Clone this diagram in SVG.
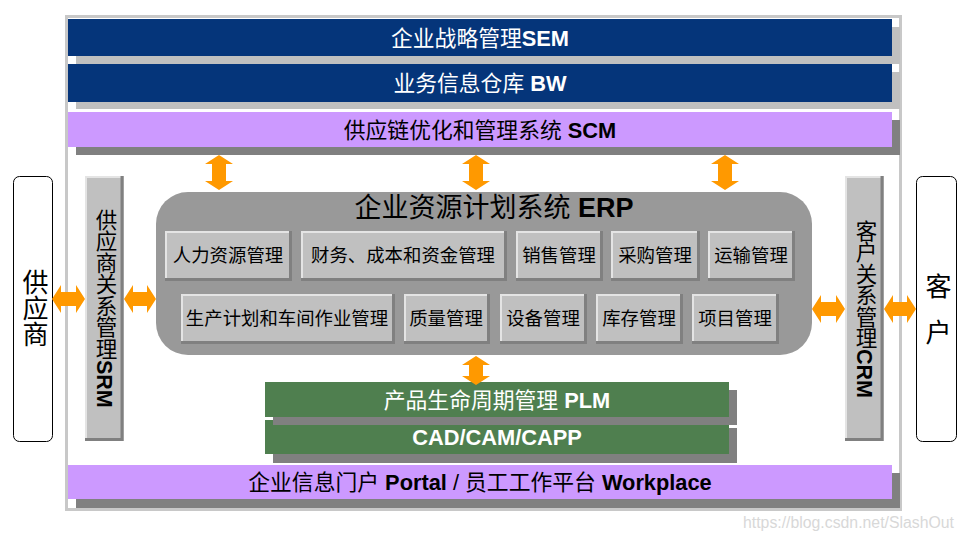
<svg xmlns="http://www.w3.org/2000/svg" width="963" height="541" viewBox="0 0 963 541">
<style>
text{font-family:"Liberation Sans","Noto Sans CJK SC",sans-serif;}
.bar{fill:#05357a}
.sh1{fill:#c0c0c0}
.sh2{fill:#808080}
.pur{fill:#cc99ff}
.grn{fill:#4f7f4f}
.wt{fill:#ffffff;font-size:21.8px;text-anchor:middle}
.bt{fill:#000000;font-size:21.8px;text-anchor:middle}
.b{font-weight:bold}
.m{fill:#c0c0c0}
.hl{fill:none;stroke:#e4e4e4;stroke-width:2}
.dk{fill:none;stroke:#808080;stroke-width:3}
.mt{font-size:18.4px;text-anchor:middle;fill:#000}
.arr{fill:#ff9900}
.vt{writing-mode:vertical-rl;font-size:21.5px;fill:#000}
.big{writing-mode:vertical-rl;font-size:26px;fill:#000}
.box{fill:#fff;stroke:#000;stroke-width:1}
</style>
<rect x="0" y="0" width="963" height="541" fill="#ffffff"/>
<rect id="frame" x="66.5" y="16.5" width="834" height="493" fill="#ffffff" stroke="#c8c8c8" stroke-width="3"/>

<g id="sem">
<rect class="sh1" x="76" y="27" width="824" height="37"/>
<rect class="bar" x="68" y="19" width="824" height="37"/>
<text class="wt" x="480" y="45.5">企业战略管理<tspan class="b">SEM</tspan></text>
</g>
<g id="bw">
<rect class="sh1" x="76" y="72" width="824" height="37"/>
<rect class="bar" x="68" y="64" width="824" height="38"/>
<text class="wt" x="480" y="90.5">业务信息仓库 <tspan class="b">BW</tspan></text>
</g>
<g id="scm">
<rect class="sh2" x="76" y="120" width="824" height="35"/>
<rect class="pur" x="68" y="112" width="824" height="35"/>
<text class="bt" x="480" y="137.5">供应链优化和管理系统 <tspan class="b">SCM</tspan></text>
</g>

<g id="erp">
<rect x="156" y="192" width="656" height="163" rx="32" ry="32" fill="#999999"/>
<text x="494" y="217" font-size="27" text-anchor="middle" fill="#000">企业资源计划系统 <tspan class="b">ERP</tspan></text>
</g>

<g id="m-hr"><rect class="m" x="165" y="231" width="127" height="50"/><path class="hl" d="M166,280V232H291"/><path class="dk" d="M290.5,231V279.5H165"/><text class="mt" x="228" y="262">人力资源管理</text></g>
<g id="m-fin"><rect class="m" x="301" y="231" width="206" height="50"/><path class="hl" d="M302,280V232H506"/><path class="dk" d="M505.5,231V279.5H301"/><text class="mt" x="403" y="262">财务、成本和资金管理</text></g>
<g id="m-sales"><rect class="m" x="516" y="231" width="87" height="50"/><path class="hl" d="M517,280V232H602"/><path class="dk" d="M601.5,231V279.5H516"/><text class="mt" x="559" y="262">销售管理</text></g>
<g id="m-pur"><rect class="m" x="611" y="231" width="89" height="50"/><path class="hl" d="M612,280V232H699"/><path class="dk" d="M698.5,231V279.5H611"/><text class="mt" x="655" y="262">采购管理</text></g>
<g id="m-trans"><rect class="m" x="708" y="231" width="87" height="50"/><path class="hl" d="M709,280V232H794"/><path class="dk" d="M793.5,231V279.5H708"/><text class="mt" x="751" y="262">运输管理</text></g>

<g id="m-prod"><rect class="m" x="181" y="294" width="214" height="50"/><path class="hl" d="M182,343V295H394"/><path class="dk" d="M393.5,294V342.5H181"/><text class="mt" x="287" y="325">生产计划和车间作业管理</text></g>
<g id="m-qual"><rect class="m" x="404" y="294" width="86" height="50"/><path class="hl" d="M405,343V295H489"/><path class="dk" d="M488.5,294V342.5H404"/><text class="mt" x="446" y="325">质量管理</text></g>
<g id="m-equip"><rect class="m" x="500" y="294" width="87" height="50"/><path class="hl" d="M501,343V295H586"/><path class="dk" d="M585.5,294V342.5H500"/><text class="mt" x="543" y="325">设备管理</text></g>
<g id="m-stock"><rect class="m" x="596" y="294" width="87" height="50"/><path class="hl" d="M597,343V295H682"/><path class="dk" d="M681.5,294V342.5H596"/><text class="mt" x="639" y="325">库存管理</text></g>
<g id="m-proj"><rect class="m" x="692" y="294" width="87" height="50"/><path class="hl" d="M693,343V295H778"/><path class="dk" d="M777.5,294V342.5H692"/><text class="mt" x="735" y="325">项目管理</text></g>

<g id="cad">
<rect class="sh2" x="273" y="428" width="464" height="35"/>
<rect class="grn" x="265" y="420" width="464" height="34"/>
<text class="wt b" x="497" y="445" font-size="23">CAD/CAM/CAPP</text>
</g>
<g id="plm">
<rect class="sh2" x="273" y="390" width="464" height="35"/>
<rect class="grn" x="265" y="382" width="464" height="35"/>
<text class="wt" x="497" y="407.5">产品生命周期管理 <tspan class="b">PLM</tspan></text>
</g>

<g id="portal">
<rect class="sh2" x="76" y="473" width="824" height="35"/>
<rect class="pur" x="68" y="465" width="824" height="34"/>
<text class="bt" x="480" y="490" font-size="22.7">企业信息门户 <tspan class="b">Portal</tspan> / 员工工作平台 <tspan class="b">Workplace</tspan></text>
</g>

<g id="srm">
<rect class="m" x="85" y="176" width="39" height="265"/>
<path class="hl" d="M86,440V177H123"/>
<path class="dk" d="M122,176V439.5H85"/>
<text class="vt" x="104" y="209">供应商关系管理<tspan class="b">SRM</tspan></text>
</g>
<g id="crm">
<rect class="m" x="845" y="176" width="39" height="265"/>
<path class="hl" d="M846,440V177H883"/>
<path class="dk" d="M882,176V439.5H845"/>
<text class="vt" x="864" y="220">客户关系管理<tspan class="b">CRM</tspan></text>
</g>

<g id="supplier">
<rect class="box" x="13.5" y="176.5" width="39" height="265" rx="6"/>
<text class="big" x="33" y="269">供应商</text>
</g>
<g id="customer">
<rect class="box" x="916.5" y="176.5" width="40" height="265" rx="6"/>
<text class="big" x="936" y="273" letter-spacing="20">客户</text>
</g>

<g id="connectors">
<path class="arr" d="M219,155L233,164H226V181H233L219,190L205,181H212V164H205Z"/>
<path class="arr" d="M476,155L490,164H483V181H490L476,190L462,181H469V164H462Z"/>
<path class="arr" d="M725,155L739,164H732V181H739L725,190L711,181H718V164H711Z"/>
<path class="arr" d="M476,356L490,365H483V376H490L476,385L462,376H469V365H462Z"/>
<path class="arr" d="M52,299L61,285V292H76V285L85,299L76,313V306H61V313Z"/>
<path class="arr" d="M124,299L133,285V292H147V285L156,299L147,313V306H133V313Z"/>
<path class="arr" d="M812,309L821,295V302H836V295L845,309L836,323V316H821V323Z"/>
<path class="arr" d="M884,309L893,295V302H907V295L916,309L907,323V316H893V323Z"/>
</g>

<text x="743" y="528" font-size="16" fill="#d8d8d8" textLength="211" lengthAdjust="spacingAndGlyphs">https://blog.csdn.net/SlashOut</text>
</svg>
